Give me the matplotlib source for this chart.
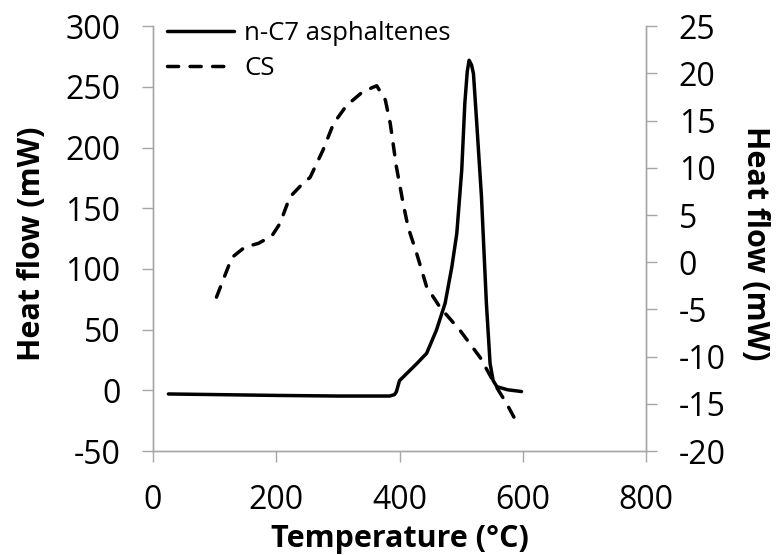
import matplotlib
matplotlib.use("Agg")
import matplotlib.pyplot as plt

plt.rcParams['font.family'] = ['Open Sans', 'DejaVu Sans']
plt.rcParams['axes.unicode_minus'] = False

# n-C7 asphaltenes (left axis, mW)
asp_T = [25, 100, 200, 300, 384, 392, 395, 400, 410, 428, 444, 460, 474, 485, 493,
         501, 506, 510, 513, 517, 520, 525, 533, 541, 547, 552, 558, 575, 598]
asp_H = [-3, -3.5, -4.2, -4.7, -4.7, -3.5, -1.1, 8, 13, 22, 30.5, 49.7, 71.7, 101.9, 129.4,
         181.6, 236.5, 263, 272, 268, 261, 222.8, 159.6, 71.7, 22, 8, 3, 0.5, -1]

# CS (right axis, mW)
cs_T = [103, 128, 149, 171, 193, 206, 222, 241, 255, 276, 293, 314, 341, 363,
        377, 385, 395, 406, 414, 428, 444, 466, 498, 531, 558, 574, 593]
cs_H = [-3.7, 0.5, 1.6, 2.0, 2.8, 4.1, 6.9, 8.2, 9.0, 11.9, 14.7, 16.6, 18.1, 18.7,
        17.2, 14.7, 10.1, 6.2, 3.7, 0.9, -2.6, -4.8, -7.2, -10.1, -13.3, -15.0, -17.3]

x_ticks = [0, 200, 400, 600, 800]
left_ticks = [-50, 0, 50, 100, 150, 200, 250, 300]
right_ticks = [-20, -15, -10, -5, 0, 5, 10, 15, 20, 25]

W, H = 777, 555
fig = plt.figure(figsize=(W/100, H/100), dpi=100)
ax = fig.add_axes([153/W, 1-451/H, (646-153)/W, (451-26.3)/H])
ax2 = ax.twinx()

gray = '#A6A6A6'
fs = 23
lfs = 22

l1, = ax.plot(asp_T, asp_H, color='black', lw=2.5, solid_capstyle='round', solid_joinstyle='round')
l2, = ax2.plot(cs_T, cs_H, color='black', lw=2.5, linestyle=(0, (3.2, 3.3)), dash_capstyle='round')

ax.set_xlim(0, 800)
ax.set_ylim(-50, 300)
ax2.set_ylim(-20, 25)
ax.set_xticks(x_ticks)
ax.set_yticks(left_ticks)
ax2.set_yticks(right_ticks)

for a in (ax, ax2):
    a.spines['top'].set_visible(False)
    for s in ('left', 'right', 'bottom'):
        a.spines[s].set_color(gray)
        a.spines[s].set_linewidth(1.0)
    a.tick_params(colors=gray, labelcolor='black', labelsize=fs, length=8, width=1.0, direction='out', pad=15.5)

fig.text(399.5/W, 1-547/H, 'Temperature (°C)', fontsize=lfs, fontweight='bold',
         ha='center', va='baseline')
fig.text(40/W, 1-244/H, 'Heat flow (mW)', fontsize=lfs, fontweight='bold',
         rotation=90, rotation_mode='anchor', ha='center', va='baseline')
fig.text(747/W, 1-243.5/H, 'Heat flow (mW)', fontsize=lfs, fontweight='bold',
         rotation=-90, rotation_mode='anchor', ha='center', va='baseline')

leg = ax2.legend([l1, l2], ['n-C7 asphaltenes', 'CS'], loc='upper left', frameon=False,
                 fontsize=18.5, handlelength=2.6, handletextpad=0.4, borderaxespad=0.0,
                 borderpad=0.0, bbox_to_anchor=(14/493, 1.012), labelspacing=0.4)

fig.savefig('out.png', dpi=100)
